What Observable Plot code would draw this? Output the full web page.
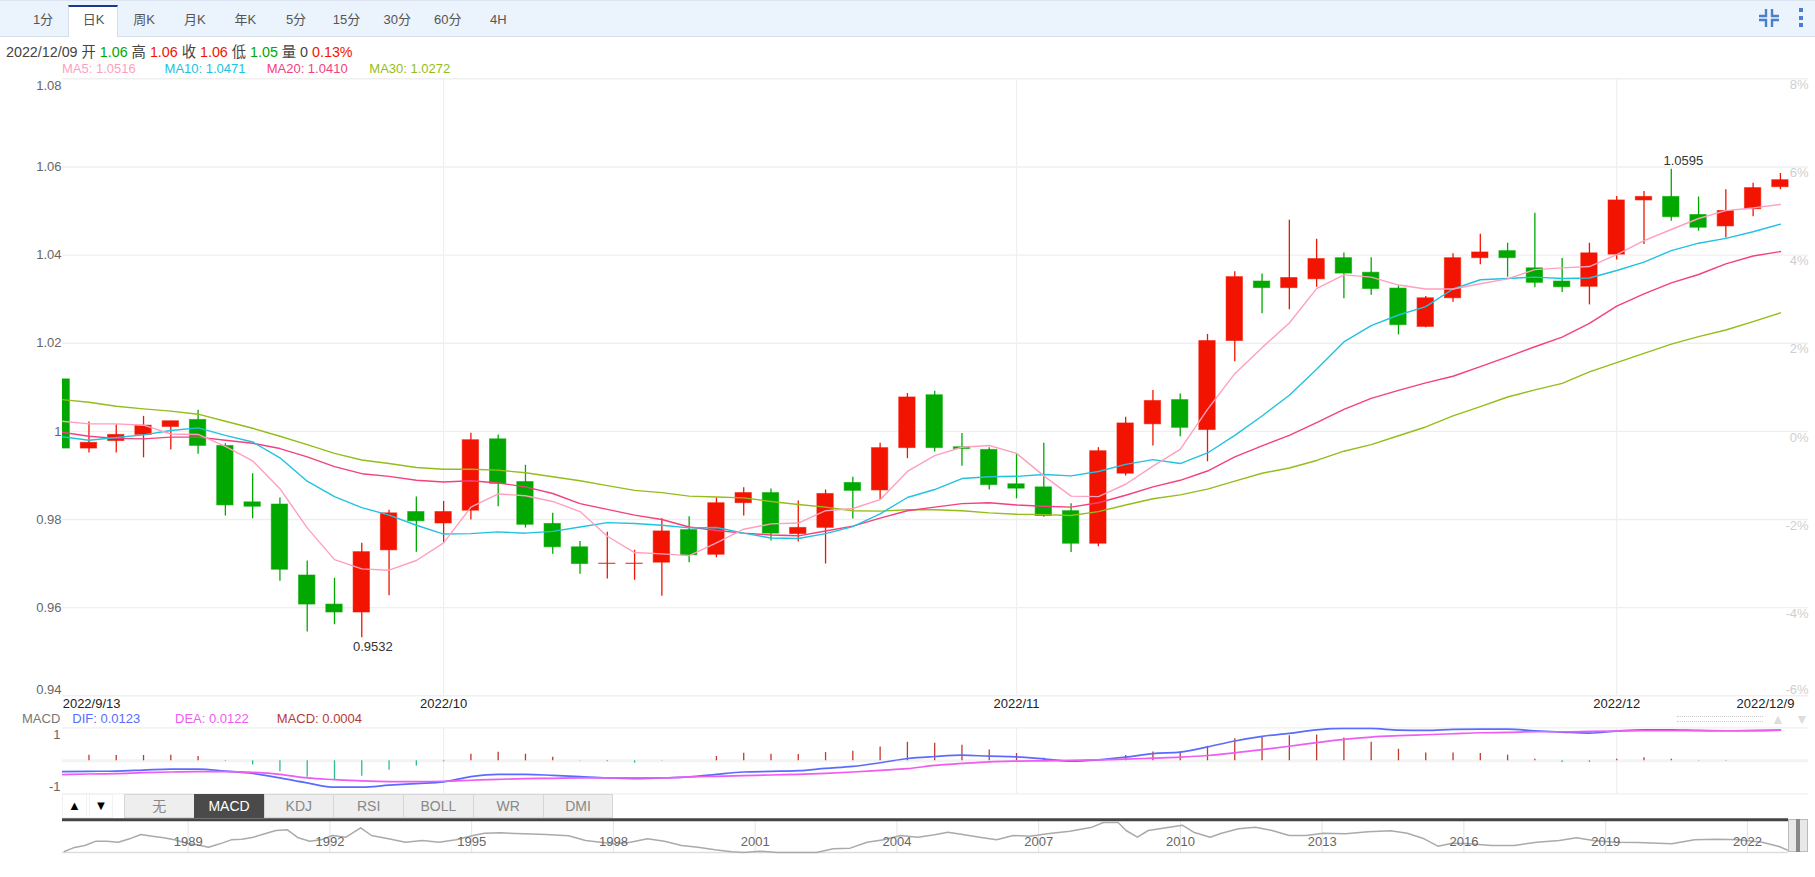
<!DOCTYPE html>
<html>
<head>
<meta charset="utf-8">
<script src="https://cdn.jsdelivr.net/npm/d3@7"></script>
<script src="https://cdn.jsdelivr.net/npm/@observablehq/plot@0.6"></script>
<style>
html,body{margin:0;padding:0;background:#fff;width:1815px;height:877px;overflow:hidden}
body,svg{font-family:"Liberation Sans","Noto Sans CJK SC",sans-serif}
.abs{position:absolute;white-space:nowrap}
#root{position:relative;width:1815px;height:877px;overflow:hidden}
.lab{font-size:13px;line-height:16px}
.btn{position:absolute;top:794px;height:24px;box-sizing:border-box;background:#eee;border:1px solid #d6d6d6;color:#888;font-size:14px;line-height:22px;text-align:center}
</style>
</head>
<body>
<div id="root"></div>
<script>
const W = 1815;
const openV = [1.0118,.9961,.9978,.9992,1.0010,1.0026,.9967,.9839,.9834,.9673,.9607,.9589,.9730,.9817,.9791,.9820,.9982,.9885,.9790,.9737,.9699,.9699,.9702,.9776,.9720,.9837,.9860,.9767,.9781,.9883,.9866,.9962,1.0082,.9964,.9958,.9880,.9873,.9819,.9745,.9904,1.0016,1.0071,1.0003,1.0205,1.0340,1.0325,1.0345,1.0393,1.0360,1.0324,1.0237,1.0302,1.0393,1.0409,1.0370,1.0340,1.0328,1.0401,1.0524,1.0532,1.0491,1.0465,1.0504,1.0554];
const closeV = [.9961,.9974,.9992,1.0013,1.0023,.9967,.9832,.9829,.9686,.9607,.9589,.9726,.9814,.9796,.9817,.9980,.9881,.9788,.9737,.9699,.9700,.9700,.9773,.9719,.9837,.9860,.9768,.9781,.9858,.9865,.9962,1.0077,.9962,.9960,.9878,.9870,.9808,.9745,.9955,1.0018,1.0069,1.0008,1.0205,1.0350,1.0325,1.0348,1.0391,1.0358,1.0323,1.0241,1.0302,1.0393,1.0406,1.0393,1.0337,1.0327,1.0404,1.0524,1.0532,1.0486,1.0462,1.0500,1.0552,1.0570];
const highV = [1.0118,1.0021,1.0015,1.0034,1.0023,1.0048,.9972,.9904,.9849,.9706,.9667,.9746,.9821,.9851,.9841,.9996,.9992,.9923,.9814,.9750,.9771,.9730,.9802,.9806,.9849,.9872,.9869,.9842,.9867,.9896,.9973,1.0086,1.0091,.9995,.9963,.9950,.9973,.9836,.9963,1.0032,1.0093,1.0085,1.0220,1.0362,1.0357,1.0479,1.0436,1.0405,1.0394,1.0330,1.0306,1.0403,1.0447,1.0427,1.0495,1.0392,1.0427,1.0533,1.0544,1.0595,1.0532,1.0548,1.0563,1.0585];
const lowV = [.9961,.9951,.9951,.9940,.9958,.9948,.9808,.9802,.9660,.9545,.9561,.9532,.9627,.9726,.9747,.9799,.9829,.9781,.9721,.9676,.9665,.9662,.9626,.9702,.9713,.9808,.9751,.9749,.9699,.9801,.9844,.9938,.9953,.9921,.9867,.9847,.9805,.9725,.9738,.9899,.9967,.9988,.9931,1.0158,1.0267,1.0276,1.0327,1.0301,1.0309,1.0219,1.0235,1.0293,1.0378,1.0350,1.0326,1.0315,1.0287,1.0389,1.0424,1.0477,1.0454,1.0439,1.0487,1.0548];
const ma5 = [1.0023,1.0017,1.0017,1.0014,.9994,.9993,.9966,.9933,.9870,.9781,.9709,.9688,.9685,.9707,.9747,.9828,.9858,.9854,.9841,.9818,.9762,.9725,.9722,.9718,.9747,.9778,.9790,.9792,.9820,.9825,.9845,.9909,.9945,.9964,.9968,.9950,.9899,.9853,.9852,.9880,.9921,.9959,1.0050,1.0131,1.0190,1.0246,1.0324,1.0355,1.0350,1.0332,1.0323,1.0323,1.0335,1.0346,1.0367,1.0371,1.0374,1.0401,1.0433,1.0458,1.0483,1.0501,1.0507,1.0515];
const ma10 = [.9988,.9980,.9986,.9992,1.0002,1.0008,.9991,.9976,.9940,.9887,.9852,.9827,.9810,.9787,.9767,.9768,.9772,.9769,.9773,.9783,.9793,.9791,.9787,.9781,.9782,.9769,.9758,.9757,.9768,.9784,.9813,.9850,.9868,.9893,.9897,.9898,.9902,.9899,.9909,.9925,.9936,.9927,.9951,.9991,1.0035,1.0082,1.0141,1.0203,1.0240,1.0264,1.0283,1.0323,1.0344,1.0347,1.0350,1.0347,1.0348,1.0365,1.0384,1.0410,1.0427,1.0438,1.0453,1.0470];
const ma20 = [.9998,.9989,.9984,.9983,.9987,.9987,.9980,.9973,.9961,.9942,.9920,.9904,.9898,.9889,.9885,.9888,.9883,.9874,.9859,.9836,.9823,.9810,.9800,.9783,.9775,.9769,.9765,.9763,.9774,.9785,.9803,.9820,.9828,.9836,.9838,.9833,.9830,.9828,.9838,.9855,.9874,.9889,.9910,.9942,.9967,.9991,1.0020,1.0050,1.0075,1.0093,1.0110,1.0125,1.0147,1.0169,1.0192,1.0214,1.0245,1.0284,1.0312,1.0337,1.0356,1.0380,1.0398,1.0408];
const ma30 = [1.0072,1.0066,1.0057,1.0051,1.0046,1.0039,1.0023,1.0007,.9989,.9970,.9950,.9935,.9927,.9918,.9914,.9914,.9912,.9906,.9897,.9888,.9877,.9866,.9861,.9853,.9851,.9849,.9841,.9834,.9828,.9820,.9819,.9822,.9822,.9820,.9815,.9812,.9811,.9809,.9818,.9833,.9847,.9856,.9869,.9887,.9905,.9917,.9934,.9955,.9970,.9990,1.0010,1.0035,1.0056,1.0078,1.0094,1.0109,1.0135,1.0156,1.0177,1.0198,1.0215,1.0230,1.0249,1.0269];
const dif = [-.33,-.32,-.31,-.28,-.25,-.25,-.31,-.38,-.52,-.67,-.80,-.80,-.74,-.69,-.64,-.48,-.41,-.41,-.44,-.48,-.52,-.54,-.52,-.49,-.41,-.34,-.32,-.30,-.23,-.17,-.06,.07,.13,.17,.14,.12,.06,-.01,.03,.11,.22,.26,.42,.60,.74,.83,.94,.98,.98,.93,.92,.95,.96,.96,.91,.87,.84,.90,.94,.94,.92,.91,.91,.93];
const dea = [-.42,-.40,-.39,-.36,-.34,-.33,-.33,-.35,-.41,-.52,-.57,-.61,-.63,-.63,-.62,-.59,-.56,-.54,-.53,-.52,-.52,-.52,-.52,-.49,-.47,-.45,-.43,-.41,-.38,-.34,-.29,-.24,-.14,-.08,-.03,-.01,0,.01,.03,.05,.08,.11,.16,.24,.34,.44,.55,.65,.72,.76,.79,.82,.85,.86,.88,.88,.89,.90,.91,.91,.91,.91,.92,.93];
const hist = [0,.17,.16,.16,.17,.13,-.02,-.13,-.33,-.5,-.6,-.47,-.29,-.16,-.03,.2,.26,.2,.11,.01,-.03,-.07,.01,0,.13,.23,.2,.19,.25,.29,.42,.56,.53,.475,.33,.22,.08,-.05,.01,.16,.27,.27,.44,.67,.74,.76,.78,.69,.56,.35,.24,.24,.22,.17,.05,-.05,-.05,.05,.09,.05,.01,-.01,0,0];
const ovYear = [1986.38,1986.57,1986.81,1987.05,1987.28,1987.52,1987.76,1988,1988.24,1988.48,1988.71,1989,1989.19,1989.43,1989.67,1989.91,1990.14,1990.38,1990.62,1990.86,1991.1,1991.33,1991.57,1991.81,1992.05,1992.34,1992.65,1992.88,1993.24,1993.6,1993.96,1994.31,1994.67,1995.03,1995.27,1995.62,1996.1,1996.58,1997.05,1997.41,1997.77,1998.01,1998.36,1998.72,1999.08,1999.44,1999.79,2000.15,2000.51,2000.75,2001.1,2001.46,2001.94,2002.3,2002.65,2003.01,2003.37,2003.72,2004.08,2004.44,2004.8,2005.08,2005.39,2005.75,2006.11,2006.46,2006.82,2007.18,2007.66,2008.13,2008.37,2008.68,2008.85,2009.09,2009.32,2009.56,2010.04,2010.28,2010.63,2010.87,2011.23,2011.59,2011.94,2012.3,2012.66,2013.02,2013.49,2013.97,2014.45,2014.8,2015.16,2015.45,2015.76,2016.11,2016.59,2017.07,2017.54,2018.02,2018.38,2018.74,2019.21,2019.69,2020.4,2020.88,2021.36,2021.83,2022.31,2022.67,2022.9];
const ovLevel = [3,14,21,34,34,31,41,54,49,44,38,26,23,16,26,38,40,46,56,66,68,44,34,38,51,46,74,51,41,31,36,31,38,51,58,59,56,54,50,36,30,26,31,41,34,21,16,8,2,0,4,0,0,0,11,13,31,38,51,46,53,61,54,46,38,51,49,56,64,76,90,90,66,46,66,71,82,61,46,58,71,76,66,51,51,58,56,62,65,58,41,19,28,26,21,21,31,36,44,36,31,30,26,38,40,38,31,18,4];
const ovYearTicks = [1989,1992,1995,1998,2001,2004,2007,2010,2013,2016,2019,2022];
const priceTicks = [1.06,1.04,1.02,1,.98,.96];
const pctTicks = [1.08,1.06,1.04,1.02,1,.98,.96];
const monthIdx = [14,35,57];
const monthLabels = ["2022/10","2022/11","2022/12"];
const firstDate = "2022/9/13", lastDate = "2022/12/9";
const tabs = ["1分","日K","周K","月K","年K","5分","15分","30分","60分","4H"];
const indicators = ["无","MACD","KDJ","RSI","BOLL","WR","DMI"];
const C = {up:"#f21400",down:"#00a800",ma5:"#ff9fbf",ma10:"#21c2e0",ma20:"#f4407c",ma30:"#94bd1a",grid:"#efefef",dif:"#5a6cff",dea:"#ee5cf2"};

const rows = openV.map((o,i)=>({i,open:o,close:closeV[i],high:highV[i],low:lowV[i],ma5:ma5[i],ma10:ma10[i],ma20:ma20[i],ma30:ma30[i],dif:dif[i],dea:dea[i],hist:hist[i]}));
const up = rows.filter(d=>d.close>=d.open), down = rows.filter(d=>d.close<d.open);
const xDomain = [0.03,64.03];
const base = {width:W,style:{background:"transparent",fontFamily:'"Liberation Sans","Noto Sans CJK SC",sans-serif',fontSize:"13px",overflow:"visible"},marginLeft:62,marginRight:7};
const root = document.getElementById("root");
function place(node,top){node.style.position="absolute";node.style.left="0";node.style.top=top+"px";root.appendChild(node);}
function div(cls,css,html){const d=document.createElement("div");d.className=cls;d.style.cssText=css;d.innerHTML=html||"";root.appendChild(d);return d;}

// ---------- toolbar ----------
div("abs","left:0;top:0;width:1815px;height:35px;background:#ebf3fd;border-top:1px solid #dbe4f0;border-bottom:1px solid #d5dfec;box-sizing:content-box");
div("abs","left:68px;top:5px;width:50px;height:32px;background:#fff;border-top:2px solid #1a3a8c;border-left:1px solid #d5dfec;border-right:1px solid #d5dfec;box-sizing:border-box");
tabs.forEach((t,i)=>div("abs","left:"+(43+i*50.6-25)+"px;width:50px;top:12px;text-align:center;font-size:13px;line-height:16px;color:#555",t));
div("abs","left:1757px;top:8px;width:24px;height:20px",'<svg width="24" height="20" viewBox="0 0 24 20" fill="none" stroke="#4a7fd0" stroke-width="2.4"><path d="M9 1V8H2M15 1V8H22M9 19V12H2M15 19V12H22"/></svg>');
div("abs","left:1799px;top:8px;width:5px;height:20px",'<svg width="5" height="20" fill="#4a7fd0"><rect x="0" y="0" width="4" height="4"/><rect x="0" y="8" width="4" height="4"/><rect x="0" y="15" width="4" height="4"/></svg>');

// ---------- info rows ----------
const g=C.down,r="#f21400",k="#444";
div("abs","left:6px;top:43px;font-size:14.3px;line-height:18px;color:"+k,
 `2022/12/09 开 <span style="color:${g}">1.06</span> 高 <span style="color:${r}">1.06</span> 收 <span style="color:${r}">1.06</span> 低 <span style="color:${g}">1.05</span> 量 0 <span style="color:${r}">0.13%</span>`);
[["MA5: 1.0516",62,C.ma5],["MA10: 1.0471",164.6,C.ma10],["MA20: 1.0410",266.7,C.ma20],["MA30: 1.0272",369.3,C.ma30]]
 .forEach(([t,x,c])=>div("abs lab","left:"+x+"px;top:61px;color:"+c,t));

// ---------- main chart ----------
const wick = (data,color)=>Plot.ruleX(data,{x:"i",y1:"low",y2:"high",stroke:color,strokeWidth:1.3,clip:"frame"});
const body = (data,color)=>Plot.rect(data,{x1:d=>d.i-.3,x2:d=>d.i+.3,y1:"open",y2:"close",fill:color,stroke:color,strokeWidth:1,strokeOpacity:.55,clip:"frame"});
const maLine = (key,color)=>Plot.line(rows,{x:"i",y:key,stroke:color,strokeWidth:1.4,clip:"frame"});
const main = Plot.plot({...base,height:660,marginTop:18.3,marginBottom:24.7,
 x:{domain:xDomain,axis:null},
 y:{domain:[.94,1.08],axis:null},
 marks:[
  Plot.ruleY([1.08,...priceTicks,.94],{stroke:C.grid,strokeWidth:1.4}),
  Plot.ruleX(monthIdx,{stroke:C.grid,strokeWidth:1.2}),
  Plot.axisY(priceTicks,{anchor:"left",tickSize:0,tickPadding:1,fill:"#666",label:null,tickFormat:d=>String(d)}),
  Plot.axisY([1.08],{anchor:"left",tickSize:0,tickPadding:1,fill:"#666",label:null,dy:7,tickFormat:d=>String(d)}),
  Plot.axisY([.94],{anchor:"left",tickSize:0,tickPadding:1,fill:"#666",label:null,dy:-6,tickFormat:d=>String(d)}),
  Plot.text(pctTicks,{y:d=>d,text:d=>Math.round((d-1)*100)+"%",frameAnchor:"right",textAnchor:"end",dy:6,fill:"#cfcfcf"}),
  Plot.text([.94],{y:d=>d,text:d=>Math.round((d-1)*100)+"%",frameAnchor:"right",textAnchor:"end",dy:-6,fill:"#cfcfcf"}),
  wick(down,C.down),wick(up,C.up),body(down,C.down),body(up,C.up),
  maLine("ma30",C.ma30),maLine("ma20",C.ma20),maLine("ma10",C.ma10),maLine("ma5",C.ma5),
  Plot.text(rows.filter(d=>d.high===d3.max(highV)),{x:"i",y:"high",text:d=>d.high.toFixed(4),dy:-8,dx:12,fill:"#333"}),
  Plot.text(rows.filter(d=>d.low===d3.min(lowV)),{x:"i",y:"low",text:d=>d.low.toFixed(4),dy:9,dx:11,fill:"#333"}),
  Plot.text(monthIdx,{x:d=>d,text:(d,i)=>monthLabels[i],frameAnchor:"bottom",dy:12.5,fill:"#222"}),
  Plot.text([0],{x:d=>d,text:()=>firstDate,frameAnchor:"bottom",dy:12.5,dx:1,textAnchor:"start",fill:"#222"}),
  Plot.text([63],{x:d=>d,text:()=>lastDate,frameAnchor:"bottom",dy:12.5,dx:14,textAnchor:"end",fill:"#222"})
 ]});
place(main,60);

// ---------- MACD legend ----------
[["MACD",22,"#777"],["DIF: 0.0123",72.3,C.dif],["DEA: 0.0122",175,C.dea],["MACD: 0.0004",276.8,"#b63a3a"]]
 .forEach(([t,x,c])=>div("abs lab","left:"+x+"px;top:711px;color:"+c,t));
div("abs","left:1677px;top:716px;width:86px;height:4px;border-top:1px dotted #ccc;border-bottom:1px dotted #ccc");
div("abs","left:1771px;top:711px;color:#ddd;font-size:14px;line-height:16px","▲");
div("abs","left:1795px;top:711px;color:#ddd;font-size:14px;line-height:16px","▼");

// ---------- MACD panel ----------
const macd = Plot.plot({...base,height:80,marginTop:7.3,marginBottom:6.7,
 x:{domain:xDomain,axis:null},
 y:{domain:[-1,1],axis:null},
 marks:[
  Plot.ruleY([1,-1],{stroke:C.grid,strokeWidth:1.2}),
  Plot.ruleY([0],{stroke:"#f3f3f3",strokeWidth:3}),
  Plot.ruleX(monthIdx,{stroke:C.grid,strokeWidth:1.2}),
  Plot.axisY([1],{anchor:"left",tickSize:0,tickPadding:2,fill:"#666",label:null,dy:7,tickFormat:d=>String(d)}),
  Plot.axisY([-1],{anchor:"left",tickSize:0,tickPadding:2,fill:"#666",label:null,dy:-7,tickFormat:d=>String(d)}),
  Plot.ruleX(rows.filter(d=>d.hist>0),{x:"i",y1:0,y2:"hist",stroke:"#c0392b",strokeWidth:1.3}),
  Plot.ruleX(rows.filter(d=>d.hist<0),{x:"i",y1:0,y2:"hist",stroke:"#2dbb8f",strokeWidth:1.3}),
  Plot.line(rows,{x:"i",y:"dif",stroke:C.dif,strokeWidth:1.7,curve:"monotone-x",clip:"frame"}),
  Plot.line(rows,{x:"i",y:"dea",stroke:C.dea,strokeWidth:1.7,curve:"monotone-x",clip:"frame"})
 ]});
place(macd,720);

// ---------- indicator buttons ----------
div("btn","left:62px;width:25px;background:#fff;border-color:#f2f2f2;color:#000;font-size:13px","▲");
div("btn","left:89px;width:24px;background:#fff;border-color:#f2f2f2;color:#000;font-size:13px","▼");
indicators.forEach((t,i)=>{
 const active=t==="MACD";
 div("btn","left:"+(124+i*69.8)+"px;width:70.5px;"+(active?"background:#4a4a4a;color:#fff;border-color:#4a4a4a":""),t);
});

// ---------- overview ----------
const ovData = ovYear.map((y,i)=>({y,v:ovLevel[i]}));
const overview = Plot.plot({width:W,height:45,marginLeft:62,marginRight:27,marginTop:3.67,marginBottom:8,
 style:base.style,
 x:{domain:[1986.34,2022.87],axis:null},
 y:{domain:[0,100],axis:null},
 marks:[
  Plot.ruleX(ovYearTicks,{stroke:"#e4e4e4",strokeWidth:1}),
  Plot.ruleY([0],{stroke:"#ddd",strokeWidth:1.5}),
  Plot.ruleY([98],{stroke:"#444",strokeWidth:3}),
  Plot.line(ovData,{x:"y",y:"v",stroke:"#aaa",strokeWidth:1.5}),
  Plot.text(ovYearTicks,{x:d=>d,text:d=>String(d),frameAnchor:"bottom",dy:-7,fill:"#666"})
 ]});
place(overview,815);
div("abs","left:1788px;top:819px;width:20px;height:33px;background:#e8e8e8;border:1px solid #bbb;box-sizing:border-box");
div("abs","left:1796px;top:819px;width:4px;height:33px;background:#888");
</script>
</body>
</html>
